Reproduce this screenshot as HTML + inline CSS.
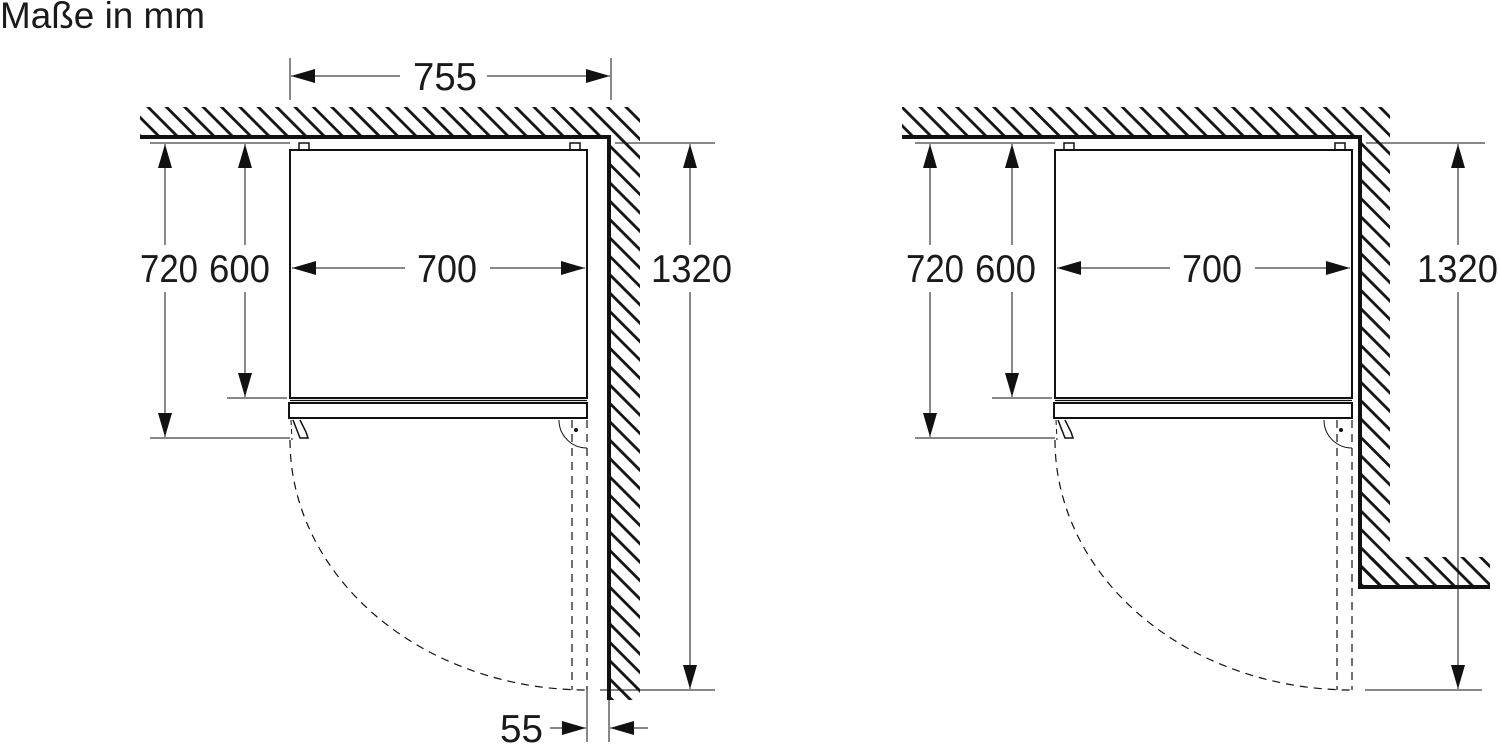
<!DOCTYPE html>
<html><head><meta charset="utf-8"><style>
html,body{margin:0;padding:0;background:#fff;}
svg{display:block;}
text{font-family:"Liberation Sans",sans-serif;fill:#1a1a1a;}
</style></head><body>
<svg width="1500" height="747" viewBox="0 0 1500 747" xmlns="http://www.w3.org/2000/svg">
<defs>
<pattern id="h" patternUnits="userSpaceOnUse" width="13" height="20" patternTransform="rotate(-45)">
<line x1="3" y1="0" x2="3" y2="20" stroke="#111" stroke-width="2.8"/>
</pattern>
<marker id="a" viewBox="0 0 24 14" refX="24" refY="7" markerWidth="24" markerHeight="14" markerUnits="userSpaceOnUse" orient="auto">
<path d="M0,0 L24,7 L0,14 z" fill="#111"/>
</marker>
<g id="fridge" stroke="#111" fill="none">
<rect x="290" y="150" width="297" height="248" stroke-width="2"/>
<rect x="299" y="143" width="10" height="7" stroke-width="1.5"/>
<rect x="570" y="143" width="10" height="7" stroke-width="1.5"/>
<line x1="290" y1="400.5" x2="587" y2="400.5" stroke-width="1.2"/>
<rect x="289" y="403" width="298" height="15" stroke-width="2"/>
<path d="M293,420 L300,438 L308,438 L306,432 L300,420" stroke-width="1.5"/>
<line x1="291" y1="420" x2="292" y2="440" stroke-width="1" stroke-dasharray="5,4"/>
<path d="M290,440 A297,250 0 0 0 587,690" stroke-width="1.2" stroke-dasharray="8,6"/>
<line x1="572" y1="420" x2="572" y2="690" stroke-width="1.2" stroke-dasharray="8,6"/>
<line x1="587" y1="420" x2="587" y2="690" stroke-width="1.2" stroke-dasharray="8,6"/>
<path d="M559,420 A28,28 0 0 0 587,448" stroke-width="1"/>
<circle cx="576" cy="430" r="1.5" fill="#111"/>
<line x1="405" y1="268" x2="292" y2="268" stroke-width="1" marker-end="url(#a)"/>
<line x1="490" y1="268" x2="585" y2="268" stroke-width="1" marker-end="url(#a)"/>
</g>
</defs>

<text x="0" y="28" font-size="37" textLength="205" lengthAdjust="spacingAndGlyphs">Maße in mm</text>

<!-- LEFT -->
<rect x="140" y="107" width="500" height="30" fill="url(#h)"/>
<rect x="611" y="137" width="29" height="563" fill="url(#h)"/>
<polyline points="140,137 609,137 609,700" fill="none" stroke="#111" stroke-width="4"/>
<use href="#fridge"/>
<text x="417" y="282" font-size="39" textLength="60" lengthAdjust="spacingAndGlyphs">700</text>
<g stroke="#111" stroke-width="1" fill="none">
<line x1="290" y1="58" x2="290" y2="100"/>
<line x1="611" y1="58" x2="611" y2="100"/>
<line x1="400" y1="76" x2="291" y2="76" marker-end="url(#a)"/>
<line x1="487" y1="76" x2="610" y2="76" marker-end="url(#a)"/>
<line x1="150" y1="143" x2="290" y2="143"/>
<line x1="150" y1="438" x2="290" y2="438"/>
<line x1="227" y1="398" x2="287" y2="398"/>
<line x1="165" y1="245" x2="165" y2="144" marker-end="url(#a)"/>
<line x1="165" y1="292" x2="165" y2="437" marker-end="url(#a)"/>
<line x1="245" y1="245" x2="245" y2="144" marker-end="url(#a)"/>
<line x1="245" y1="292" x2="245" y2="397" marker-end="url(#a)"/>
<line x1="615" y1="143" x2="715" y2="143"/>
<line x1="600" y1="690" x2="715" y2="690"/>
<line x1="690" y1="245" x2="690" y2="144" marker-end="url(#a)"/>
<line x1="690" y1="292" x2="690" y2="689" marker-end="url(#a)"/>
<line x1="587" y1="690" x2="587" y2="742"/>
<line x1="609" y1="700" x2="609" y2="742"/>
<line x1="550" y1="728" x2="586" y2="728" marker-end="url(#a)"/>
<line x1="648" y1="728" x2="610" y2="728" marker-end="url(#a)"/>
</g>
<text x="413" y="90" font-size="39" textLength="64" lengthAdjust="spacingAndGlyphs">755</text>
<text x="140" y="282" font-size="39" textLength="58" lengthAdjust="spacingAndGlyphs">720</text>
<text x="209" y="282" font-size="39" textLength="61" lengthAdjust="spacingAndGlyphs">600</text>
<text x="651" y="282" font-size="39" textLength="81" lengthAdjust="spacingAndGlyphs">1320</text>
<text x="500" y="742" font-size="39" textLength="43" lengthAdjust="spacingAndGlyphs">55</text>

<!-- RIGHT -->
<rect x="902" y="107" width="488" height="30" fill="url(#h)"/>
<rect x="1362" y="137" width="28" height="450" fill="url(#h)"/>
<rect x="1362" y="557" width="128" height="30" fill="url(#h)"/>
<polyline points="902,137 1360,137 1360,587 1490,587" fill="none" stroke="#111" stroke-width="4"/>
<use href="#fridge" transform="translate(765,0)"/>
<text x="1182" y="282" font-size="39" textLength="60" lengthAdjust="spacingAndGlyphs">700</text>
<g stroke="#111" stroke-width="1" fill="none">
<line x1="915" y1="143" x2="1055" y2="143"/>
<line x1="915" y1="438" x2="1055" y2="438"/>
<line x1="992" y1="398" x2="1052" y2="398"/>
<line x1="930" y1="245" x2="930" y2="144" marker-end="url(#a)"/>
<line x1="930" y1="292" x2="930" y2="437" marker-end="url(#a)"/>
<line x1="1012" y1="245" x2="1012" y2="144" marker-end="url(#a)"/>
<line x1="1012" y1="292" x2="1012" y2="397" marker-end="url(#a)"/>
<line x1="1366" y1="143" x2="1485" y2="143"/>
<line x1="1365" y1="690" x2="1482" y2="690"/>
<line x1="1458" y1="245" x2="1458" y2="144" marker-end="url(#a)"/>
<line x1="1458" y1="292" x2="1458" y2="689" marker-end="url(#a)"/>
</g>
<text x="906" y="282" font-size="39" textLength="58" lengthAdjust="spacingAndGlyphs">720</text>
<text x="975" y="282" font-size="39" textLength="61" lengthAdjust="spacingAndGlyphs">600</text>
<text x="1417" y="282" font-size="39" textLength="81" lengthAdjust="spacingAndGlyphs">1320</text>
</svg>
</body></html>
